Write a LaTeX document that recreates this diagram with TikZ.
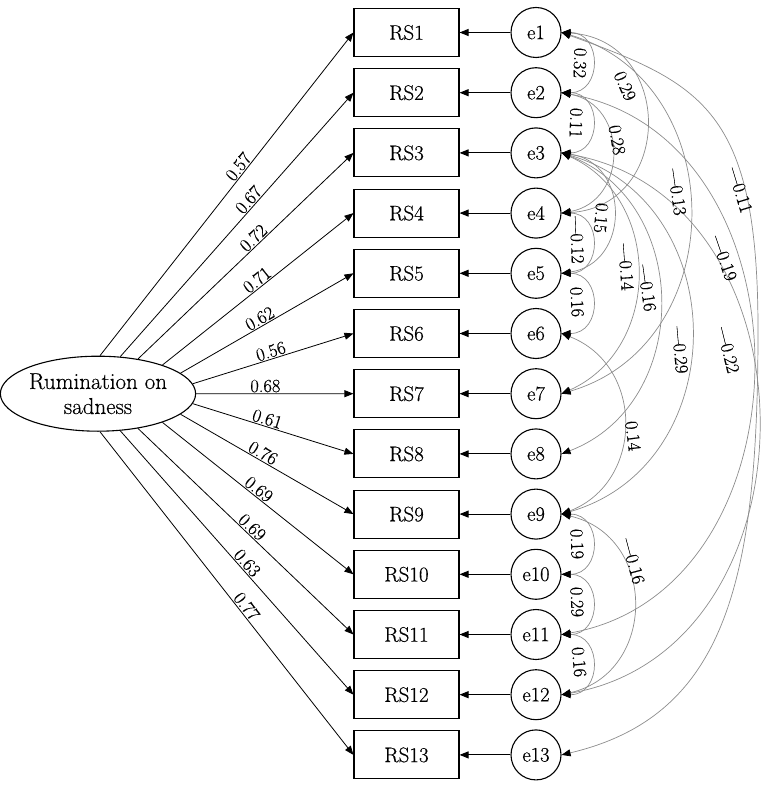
\documentclass[tikz,border=0pt]{standalone}
\usepackage{fontspec}
\setmainfont{Latin Modern Roman}[FakeBold=0.5]
\usetikzlibrary{arrows.meta,shapes.geometric}
\begin{document}
\begin{tikzpicture}[x=1pt,y=1pt,
  obs/.style={draw,line width=1.1pt,minimum width=105pt,minimum height=48pt,inner sep=0pt,font=\fontsize{21}{23}\selectfont},
  err/.style={draw,circle,line width=1.1pt,minimum size=50pt,inner sep=0pt,font=\fontsize{20.5}{22}\selectfont},
  lat/.style={draw,ellipse,line width=1.1pt,minimum width=187pt,minimum height=75pt,inner sep=0pt,align=center,font=\fontsize{23}{25}\selectfont},
  load/.style={line width=0.8pt,-{Triangle[length=9pt,width=7pt]}},
  res/.style={line width=1pt,-{Triangle[length=9pt,width=7pt]}},
  cov/.style={draw=black!45,line width=0.7pt,{Triangle[length=9pt,width=7pt,color=black]}-{Triangle[length=9pt,width=7pt,color=black]}},
  coef/.style={font=\fontsize{18.5}{20}\selectfont,inner sep=1pt},
]
\path[use as bounding box] (0,0) rectangle (765,-794);

\foreach \i in {1,...,13} {
  \node[obs] (RS\i) at (406.5,{-32.5-60.2*(\i-1)}) {RS\i};
  \node[err] (e\i) at (536,{-32.5-60.2*(\i-1)}) {e\i};
  \draw[res] (e\i) -- (RS\i);
}

\node[lat] (F) at (98,-393.7) {Rumination on\\sadness};

\foreach \i/\a/\p/\v in {1/87/0.57/0.57, 2/59/0.575/0.67, 3/41/0.56/0.72, 4/24/0.52/0.71,
  5/14/0.48/0.62, 6/6/0.50/0.56, 7/0/0.44/0.68, 8/354/0.45/0.61, 9/346/0.455/0.76,
  10/336/0.48/0.69, 11/319/0.506/0.69, 12/301/0.52/0.63, 13/273/0.555/0.77} {
  \draw[load] (F.\a) -- node[coef,sloped,above,pos=\p] (L\i) {\v} (RS\i.west);
}

% covariances
\draw[cov] (e1.east) .. controls +(41,0) and +(41,0) .. (e2.east);
\draw[cov] (e2.east) .. controls +(41,0) and +(41,0) .. (e3.east);
\draw[cov] (e4.east) .. controls +(41,0) and +(41,0) .. (e5.east);
\draw[cov] (e5.east) .. controls +(41,0) and +(41,0) .. (e6.east);
\draw[cov] (e9.east) .. controls +(41,0) and +(41,0) .. (e10.east);
\draw[cov] (e10.east) .. controls +(41,0) and +(41,0) .. (e11.east);
\draw[cov] (e11.east) .. controls +(41,0) and +(41,0) .. (e12.east);
\draw[cov] (e1.east) .. controls +(113,-7) and +(113,7) .. (e4.east);
\draw[cov] (e2.east) .. controls +(67,-12) and +(67,12) .. (e4.east);
\draw[cov] (e3.east) .. controls +(69,-10) and +(69,10) .. (e5.east);
\draw[cov] (e1.east) .. controls +(171,-50) and +(171,50) .. (e7.east);
\draw[cov] (e3.east) .. controls +(101,-45) and +(101,45) .. (e7.east);
\draw[cov] (e3.east) .. controls +(131,-50) and +(131,50) .. (e8.east);
\draw[cov] (e3.east) .. controls +(173,-50) and +(173,50) .. (e9.east);
\draw[cov] (e6.east) .. controls +(83,-32) and +(83,32) .. (e9.east);
\draw[cov] (e9.east) .. controls +(96,-22) and +(96,22) .. (e12.east);
\draw[cov] (e2.east) .. controls +(255,-45) and +(255,45) .. (e11.east);
\draw[cov] (e3.east) .. controls +(262,-45) and +(262,45) .. (e12.east);
\coordinate (m113) at (758,-330);
\draw[cov] (e1.east) .. controls +(141,-51) and +(0,220) .. (m113)
  .. controls +(0,-250) and +(165,39) .. (e13.east);

% covariance labels
\node[coef,rotate=-92] (c12) at (580,-63) {0.32};
\node[coef,rotate=-92] (c23) at (576,-123) {0.11};
\node[coef,rotate=-66] (c14) at (625,-86) {0.29};
\node[coef,rotate=-80] (c24) at (617,-140) {0.28};
\node[coef,rotate=-95] (c35) at (601,-218) {0.15};
\node[coef,rotate=-88] (c45) at (577,-240) {---0.12};
\node[coef,rotate=-87] (c56) at (577,-302) {0.16};
\node[coef,rotate=-86] (c37) at (626,-267) {---0.14};
\node[coef,rotate=-82] (c38) at (647,-288) {---0.16};
\node[coef,rotate=-82] (c17) at (677,-192) {---0.13};
\node[coef,rotate=-73] (c113) at (740,-190) {---0.11};
\node[coef,rotate=-71] (c211) at (724,-258) {---0.19};
\node[coef,rotate=-85] (c39) at (680,-350) {---0.29};
\node[coef,rotate=-76] (c312) at (728,-350) {---0.22};
\node[coef,rotate=-83] (c69) at (633,-436) {0.14};
\node[coef,rotate=-88] (c910) at (577,-544) {0.19};
\node[coef,rotate=-75] (c912) at (633,-561) {---0.16};
\node[coef,rotate=-88] (c1011) at (577,-602) {0.29};
\node[coef,rotate=-85] (c1112) at (579,-662) {0.16};
\end{tikzpicture}
\end{document}
